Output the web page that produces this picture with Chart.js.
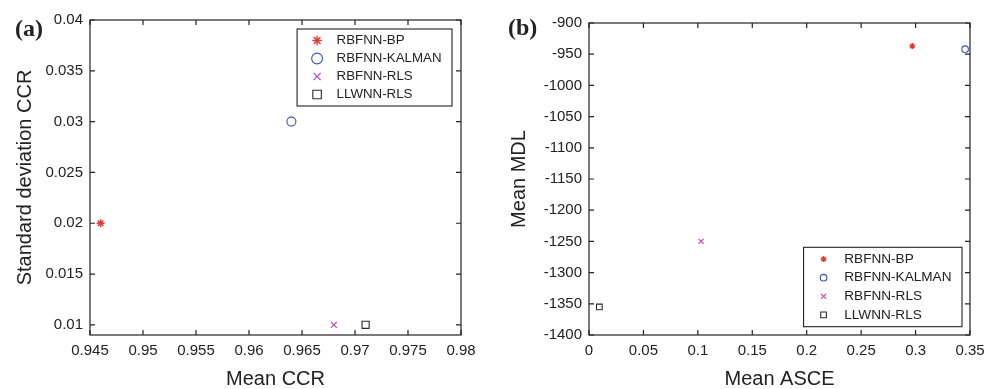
<!DOCTYPE html>
<html>
<head>
<meta charset="utf-8">
<script src="https://cdn.jsdelivr.net/npm/chart.js@4.4.0/dist/chart.umd.min.js"></script>
<style>
  body { margin: 0; background: #fff; }
  .panel { position: absolute; top: 0; height: 389px; }
  #wrap-a { left: 0; width: 500px; }
  #wrap-b { left: 500px; width: 502px; }
  .tag { position: absolute; font: bold 24px "Liberation Serif", serif; color: #222; line-height: 1; }
</style>
</head>
<body>
<div class="panel" id="wrap-a"><canvas id="chart-a"></canvas></div>
<div class="panel" id="wrap-b"><canvas id="chart-b"></canvas></div>
<div class="tag" style="left:15px;top:16px">(a)</div>
<div class="tag" style="left:508px;top:15px">(b)</div>
<script>
const methods = ['RBFNN-BP', 'RBFNN-KALMAN', 'RBFNN-RLS', 'LLWNN-RLS'];

// panel (a)
const meanCCR = [0.946, 0.964, 0.968, 0.971];
const stdCCR = [0.02, 0.03, 0.01, 0.01];
const xTicksA = [0.945, 0.95, 0.955, 0.96, 0.965, 0.97, 0.975, 0.98];
const yTicksA = [0.01, 0.015, 0.02, 0.025, 0.03, 0.035, 0.04];
const yRangeA = [0.009, 0.04];

// panel (b)
const meanASCE = [0.297, 0.3455, 0.103, 0.0095];
const meanMDL = [-937, -942, -1250, -1355];
const xTicksB = [0, 0.05, 0.1, 0.15, 0.2, 0.25, 0.3, 0.35];
const yTicksB = [-1400, -1350, -1300, -1250, -1200, -1150, -1100, -1050, -1000, -950, -900];

const colors = ['#e23b33', '#3d52b8', '#c23ec4', '#2a2a2a'];
const shapes = ['star', 'circle', 'crossRot', 'rect'];
const ink = '#222';
const sans = '"Liberation Sans", Arial, sans-serif';

function makeDatasets(xs, ys, radii) {
    return methods.map((m, i) => ({
        label: m,
        data: [{ x: xs[i], y: ys[i] }],
        pointStyle: shapes[i],
        pointRadius: radii[i],
        pointHoverRadius: radii[i],
        borderColor: colors[i],
        backgroundColor: 'rgba(0,0,0,0)',
        pointBorderWidth: i === 0 ? 1.4 : 1.1,
        clip: false
    }));
}

// box around the plot + inward tick marks on all four sides
const frameTicks = {
    id: 'frameTicks',
    afterDatasetsDraw(chart) {
        const { ctx, chartArea: a, scales } = chart;
        const len = 5;
        ctx.save();
        ctx.strokeStyle = ink;
        ctx.lineWidth = 1.2;
        ctx.strokeRect(a.left, a.top, a.right - a.left, a.bottom - a.top);
        ctx.beginPath();
        scales.x.ticks.forEach(t => {
            const px = scales.x.getPixelForValue(t.value);
            ctx.moveTo(px, a.bottom); ctx.lineTo(px, a.bottom - len);
            ctx.moveTo(px, a.top); ctx.lineTo(px, a.top + len);
        });
        scales.y.ticks.forEach(t => {
            const py = scales.y.getPixelForValue(t.value);
            ctx.moveTo(a.left, py); ctx.lineTo(a.left + len, py);
            ctx.moveTo(a.right, py); ctx.lineTo(a.right - len, py);
        });
        ctx.stroke();
        ctx.restore();
    }
};

// MATLAB-like boxed legend inside the axes
const boxLegend = {
    id: 'boxLegend',
    afterDraw(chart, args, opts) {
        const { ctx, chartArea: a } = chart;
        const sets = chart.data.datasets;
        ctx.save();
        ctx.font = opts.fontSize + 'px ' + sans;
        let w = 0;
        sets.forEach(d => { w = Math.max(w, ctx.measureText(d.label).width); });
        const boxW = opts.textX + w + 10.5;
        const boxH = opts.padY * 2 + opts.rowH * (sets.length - 1);
        const right = a.right - opts.marginX;
        const left = right - boxW;
        const top = opts.corner === 'top' ? a.top + opts.marginY : a.bottom - opts.marginY - boxH;
        ctx.fillStyle = '#fff';
        ctx.fillRect(left, top, boxW, boxH);
        ctx.strokeStyle = ink;
        ctx.lineWidth = 1.1;
        ctx.strokeRect(left, top, boxW, boxH);
        sets.forEach((d, i) => {
            const cy = top + opts.padY + i * opts.rowH;
            ctx.strokeStyle = d.borderColor;
            ctx.fillStyle = 'rgba(0,0,0,0)';
            ctx.lineWidth = d.pointBorderWidth;
            Chart.helpers.drawPoint(ctx, {
                pointStyle: d.pointStyle, radius: d.pointRadius * opts.markScale,
                rotation: 0, borderWidth: d.pointBorderWidth
            }, left + 20, cy);
            ctx.fillStyle = ink;
            ctx.textBaseline = 'middle';
            ctx.textAlign = 'left';
            ctx.fillText(d.label, left + opts.textX, cy);
        });
        ctx.restore();
    }
};

function axis(ticks, range, title, fit, titlePad, lineHeight) {
    return {
        type: 'linear',
        min: range[0],
        max: range[1],
        afterBuildTicks: s => { s.ticks = ticks.map(v => ({ value: v })); },
        afterFit: fit,
        grid: { display: false, drawTicks: false },
        border: { display: false },
        ticks: {
            autoSkip: false,
            maxRotation: 0,
            padding: 7,
            color: ink,
            font: { family: sans, size: 15 },
            callback: v => String(v)
        },
        title: {
            display: true,
            text: title,
            color: ink,
            font: { family: sans, size: 20, lineHeight: lineHeight },
            padding: titlePad
        }
    };
}

function baseOptions(padding, xAxis, yAxis, legendOpts) {
    return {
        responsive: true,
        maintainAspectRatio: false,
        animation: false,
        events: [],
        layout: { padding: padding },
        scales: { x: xAxis, y: yAxis },
        plugins: {
            legend: { display: false },
            tooltip: { enabled: false },
            boxLegend: legendOpts
        }
    };
}

new Chart(document.getElementById('chart-a'), {
    type: 'scatter',
    data: { datasets: makeDatasets(meanCCR, stdCCR, [4, 4.5, 4.2, 5]) },
    options: baseOptions(
        { left: 0, top: 20, right: 39, bottom: 0 },
        axis(xTicksA, [xTicksA[0], xTicksA[xTicksA.length - 1]], 'Mean CCR', s => { s.height = 54; }, { top: 0, bottom: 0 }, 1),
        axis(yTicksA, yRangeA, 'Standard deviation CCR', s => { s.width = 90; }, { top: 13.5, bottom: 0 }, 1.2),
        { corner: 'top', marginX: 9, marginY: 9, padY: 11.5, rowH: 18, textX: 39.5, fontSize: 13.3, markScale: 1.2 }
    ),
    plugins: [frameTicks, boxLegend]
});

new Chart(document.getElementById('chart-b'), {
    type: 'scatter',
    data: { datasets: makeDatasets(meanASCE, meanMDL, [3, 3.3, 3.5, 4]) },
    options: baseOptions(
        { left: 0, top: 23, right: 32, bottom: 0 },
        axis(xTicksB, [xTicksB[0], xTicksB[xTicksB.length - 1]], 'Mean ASCE', s => { s.height = 54; }, { top: 0, bottom: 0 }, 1),
        axis(yTicksB, [yTicksB[0], yTicksB[yTicksB.length - 1]], 'Mean MDL', s => { s.width = 89; }, { top: 7.5, bottom: 0 }, 1.2),
        { corner: 'bottom', marginX: 8, marginY: 8.3, padY: 11.8, rowH: 18.6, textX: 40.7, fontSize: 13.6, markScale: 1 }
    ),
    plugins: [frameTicks, boxLegend]
});
</script>
</body>
</html>
